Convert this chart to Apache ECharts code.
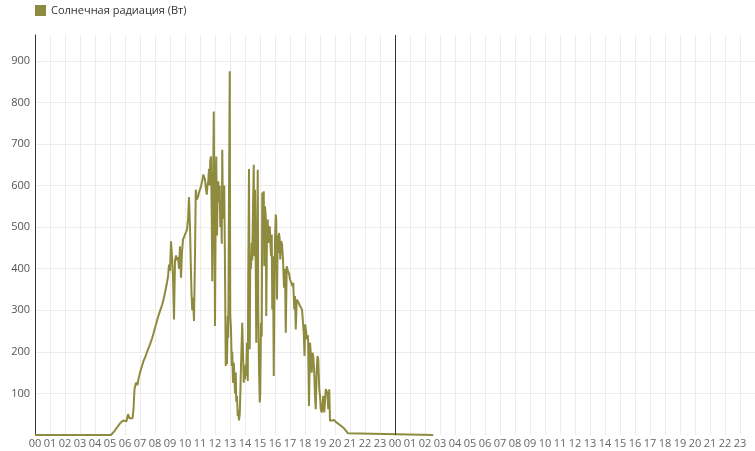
<!DOCTYPE html>
<html>
<head>
<meta charset="utf-8">
<script src="https://cdn.jsdelivr.net/npm/echarts@6/dist/echarts.min.js"></script>
<style>
html,body{margin:0;padding:0;background:#fff;}
#chart{width:755px;height:451px;}
</style>
</head>
<body>
<div id="chart"></div>
<script>
// Time in minutes from the start of the first day (two days shown: 0..2880)
const minutes = [
  0, 304, 316, 328, 340, 352, 360, 366, 372, 378, 384, 390, 394, 398, 404, 410, 414, 420, 428, 434,
  440, 446, 452, 460, 468, 474, 480, 486, 492, 500, 508, 514, 520, 526, 532, 536, 540, 544, 548, 552,
  556, 560, 564, 568, 572, 576, 580, 584, 588, 592, 596, 600, 604, 608, 612, 616, 620, 623, 626, 629,
  632, 636, 640, 643, 647, 650, 653, 656, 660, 664, 667, 670, 673, 677, 680, 684, 687, 690, 693, 696,
  699, 701, 704, 707, 709, 712, 715, 717, 720, 723, 725, 728, 731, 733, 736, 739, 741, 744, 747, 749,
  752, 755, 757, 760, 763, 765, 768, 771, 773, 776, 779, 781, 784, 787, 789, 792, 795, 797, 800, 803,
  805, 808, 811, 813, 816, 819, 821, 824, 827, 829, 832, 835, 837, 840, 843, 845, 848, 851, 853, 856,
  859, 861, 864, 867, 869, 872, 875, 877, 880, 883, 885, 888, 891, 893, 896, 899, 901, 904, 907, 909,
  912, 915, 917, 920, 923, 925, 928, 931, 933, 936, 939, 941, 944, 947, 949, 952, 955, 957, 960, 963,
  965, 968, 971, 973, 976, 979, 981, 984, 988, 992, 996, 1000, 1003, 1007, 1010, 1013, 1017, 1020, 1024, 1027,
  1030, 1033, 1037, 1040, 1043, 1047, 1050, 1053, 1057, 1060, 1064, 1068, 1072, 1075, 1078, 1081, 1084, 1088, 1092, 1096,
  1100, 1104, 1107, 1110, 1113, 1117, 1120, 1123, 1127, 1130, 1133, 1137, 1140, 1143, 1147, 1150, 1153, 1157, 1160, 1163,
  1167, 1170, 1173, 1177, 1180, 1188, 1196, 1204, 1212, 1220, 1228, 1236, 1244, 1252, 1256, 1593
];
// Solar radiation (W)
const radiation = [
  0, 0, 8, 18, 28, 35, 38, 33, 50, 40, 44, 40, 62, 110, 126, 120, 135, 150, 166, 178,
  186, 196, 206, 218, 232, 244, 258, 270, 284, 298, 312, 326, 342, 360, 380, 410, 395, 466, 430, 380,
  278, 420, 432, 420, 428, 400, 454, 378, 440, 470, 476, 478, 488, 494, 518, 572, 500, 414, 342, 300,
  330, 274, 430, 590, 566, 570, 574, 584, 590, 598, 606, 614, 626, 620, 614, 590, 578, 600, 610, 640,
  600, 660, 670, 520, 370, 560, 778, 600, 262, 560, 670, 480, 600, 610, 560, 600, 500, 560, 460, 686,
  520, 560, 600, 400, 166, 260, 170, 286, 234, 582, 875, 290, 254, 166, 200, 126, 174, 150, 100, 150,
  80, 94, 46, 60, 35, 50, 94, 166, 230, 270, 200, 126, 166, 134, 170, 142, 222, 130, 382, 640,
  206, 430, 400, 462, 420, 542, 650, 430, 590, 398, 222, 420, 638, 300, 160, 78, 100, 270, 237, 583,
  500, 586, 406, 550, 526, 286, 494, 518, 462, 478, 502, 470, 430, 482, 302, 430, 142, 300, 470, 530,
  518, 326, 480, 438, 486, 470, 422, 466, 460, 422, 354, 400, 246, 406, 398, 402, 386, 374, 374, 370,
  358, 366, 302, 334, 254, 326, 322, 320, 318, 310, 306, 302, 298, 246, 190, 266, 262, 230, 240, 70,
  222, 190, 150, 198, 190, 150, 94, 62, 158, 190, 182, 110, 94, 62, 54, 54, 94, 54, 80, 110,
  110, 100, 62, 110, 34, 34, 36, 31, 28, 24, 20, 16, 10, 4, 0, 0
];
const seriesName = 'Солнечная радиация (Вт)';
const dayBoundary = [1440];

const chart = echarts.init(document.getElementById('chart'), null, {renderer: 'canvas'});
const font = 'Open Sans';
chart.setOption({
  animation: false,
  textStyle: {fontFamily: font},
  legend: {
    data: [seriesName],
    left: 30, top: 0,
    icon: 'rect', itemWidth: 11, itemHeight: 11,
    textStyle: {fontSize: 11, color: '#333', fontFamily: font}
  },
  grid: {left: 35, right: 0, top: 35, bottom: 16, containLabel: false},
  xAxis: {
    type: 'value', min: 0, max: 2880, interval: 60,
    axisLine: {show: false}, axisTick: {show: false},
    axisLabel: {
      fontSize: 11, color: '#666', margin: 3, fontFamily: font, showMaxLabel: false,
      formatter: v => String(Math.round(v / 60) % 24).padStart(2, '0')
    },
    splitLine: {show: true, showMinLine: false, showMaxLine: false, lineStyle: {color: '#ececec', width: 1}}
  },
  yAxis: {
    type: 'value', min: 0, max: 962, interval: 100,
    axisLine: {show: true, lineStyle: {color: '#333', width: 1}}, axisTick: {show: false},
    axisLabel: {fontSize: 11, color: '#555', margin: 5, fontFamily: font, showMinLabel: false, showMaxLabel: false},
    splitLine: {show: true, showMinLine: false, showMaxLine: false, lineStyle: {color: '#ececec', width: 1}}
  },
  series: [{
    name: seriesName,
    type: 'line',
    data: minutes.map((m, i) => [m, radiation[i]]),
    showSymbol: false,
    symbol: 'none',
    color: '#8E8A3E',
    lineStyle: {width: 2, color: '#8E8A3E'},
    markLine: {
      silent: true, symbol: 'none', label: {show: false},
      lineStyle: {color: '#333', width: 1, type: 'solid'},
      data: dayBoundary.map(v => ({xAxis: v}))
    }
  }]
});
</script>
</body>
</html>
